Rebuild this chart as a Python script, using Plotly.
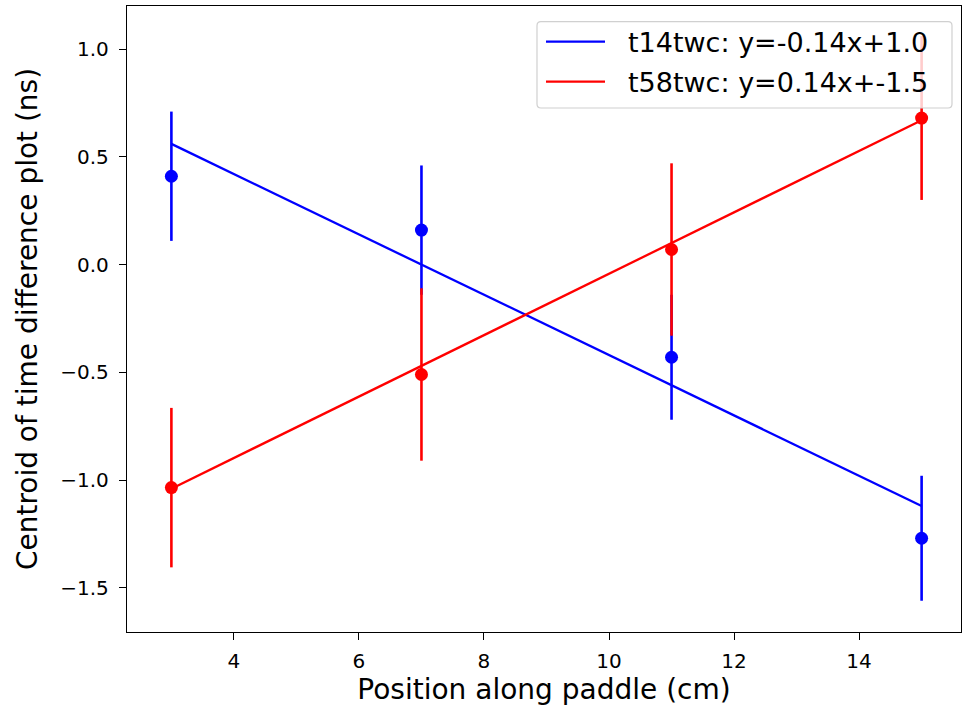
import plotly.graph_objects as go

# Data
positions = [3, 7, 11, 15]
t14_centroid = [0.41, 0.16, -0.43, -1.27]
t14_err = [0.30, 0.30, 0.29, 0.29]
t58_centroid = [-1.035, -0.51, 0.07, 0.68]
t58_err = [0.37, 0.40, 0.40, 0.38]

fit_x = [3, 15]
t14_fit = [0.56, -1.12]
t58_fit = [-1.04, 0.67]

t14_label = "t14twc: y=-0.14x+1.0"
t58_label = "t58twc: y=0.14x+-1.5"

x_ticks = [4, 6, 8, 10, 12, 14]
y_ticks = [-1.5, -1.0, -0.5, 0.0, 0.5, 1.0]

BLUE = "#0000ff"
RED = "#ff0000"
FONT = "DejaVu Sans"

W, H = 962, 707
ML, MR, MT, MB = 127, 1, 6, 75
PW, PH = W - ML - MR, H - MT - MB

def px(xp):
    return (xp - ML) / PW

def py(yp):
    return 1 - (yp - MT) / PH

fig = go.Figure()

def add_series(y, err, fy, color, name):
    fig.add_trace(go.Scatter(
        x=positions, y=y, mode="markers", name=name,
        marker=dict(color=color, size=13),
        error_y=dict(type="data", array=err, visible=True, color=color,
                     thickness=2.6, width=0),
        showlegend=False, hoverinfo="skip"))
    fig.add_trace(go.Scatter(
        x=fit_x, y=fy, mode="lines", name=name,
        line=dict(color=color, width=2.3), showlegend=False))

add_series(t14_centroid, t14_err, t14_fit, BLUE, t14_label)
add_series(t58_centroid, t58_err, t58_fit, RED, t58_label)

axis_common = dict(
    showline=True, linecolor="black", linewidth=1.3, mirror=True,
    ticks="outside", ticklen=7, tickwidth=1.3, tickcolor="black",
    showgrid=False, zeroline=False,
    tickfont=dict(family=FONT, size=20, color="black"),
)

fig.update_xaxes(range=[2.29, 15.63], tickvals=x_ticks,
                 ticklabelstandoff=4,
                 title=dict(text="Position along paddle (cm)",
                            font=dict(family=FONT, size=28, color="black"),
                            standoff=6),
                 **axis_common)
fig.update_yaxes(range=[-1.705, 1.20], tickvals=y_ticks, tickformat=".1f",
                 ticklabelstandoff=6,
                 title=dict(text="Centroid of time difference plot (ns)",
                            font=dict(family=FONT, size=28, color="black"),
                            standoff=14),
                 **axis_common)

# matplotlib-style legend box (rounded) with long line samples
x0, x1 = px(537), px(952)
y0, y1 = py(108), py(21.7)
rx, ry = 4 / PW, 4 / PH
path = (f"M {x0+rx},{y0} L {x1-rx},{y0} Q {x1},{y0} {x1},{y0+ry} "
        f"L {x1},{y1-ry} Q {x1},{y1} {x1-rx},{y1} L {x0+rx},{y1} "
        f"Q {x0},{y1} {x0},{y1-ry} L {x0},{y0+ry} Q {x0},{y0} {x0+rx},{y0} Z")
fig.add_shape(type="path", path=path, xref="paper", yref="paper",
              fillcolor="rgba(255,255,255,0.8)",
              line=dict(color="#d0d0d0", width=1.2), layer="above")

for row_y, color, label in [(41.7, BLUE, t14_label), (81.7, RED, t58_label)]:
    fig.add_shape(type="line", xref="paper", yref="paper",
                  x0=px(546), x1=px(605), y0=py(row_y), y1=py(row_y),
                  line=dict(color=color, width=2.3), layer="above")
    fig.add_annotation(xref="paper", yref="paper", x=px(626), y=py(row_y + 1),
                       xanchor="left", yanchor="middle", showarrow=False,
                       text=label, font=dict(family=FONT, size=27, color="black"))

fig.update_layout(
    width=W, height=H,
    margin=dict(l=ML, r=MR, t=MT, b=MB),
    paper_bgcolor="white", plot_bgcolor="white",
    font=dict(family=FONT, color="black"),
    showlegend=False,
)

fig.write_html("out.html")
